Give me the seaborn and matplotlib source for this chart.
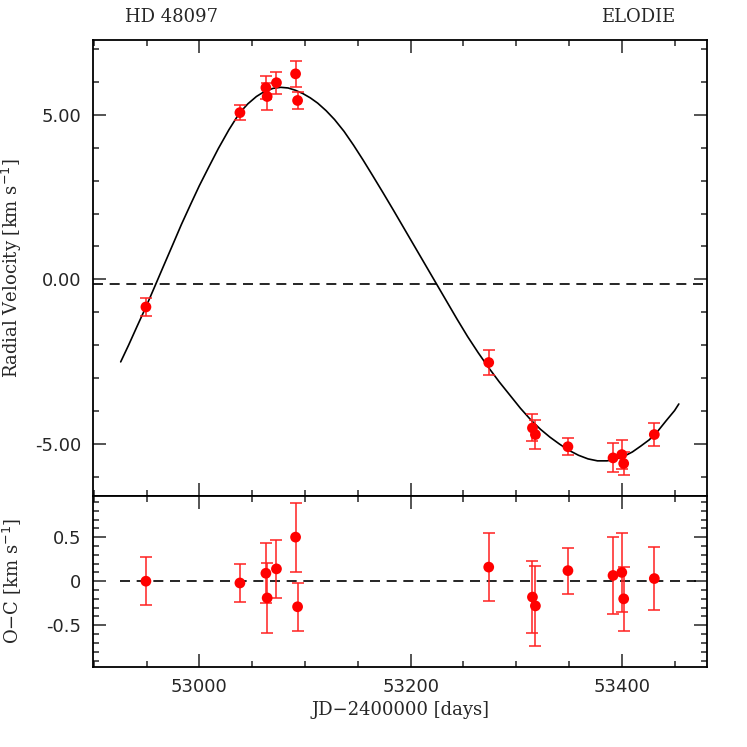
import numpy as np
import seaborn as sns
import matplotlib
matplotlib.use("Agg")
import matplotlib.pyplot as plt
from matplotlib.ticker import MultipleLocator, FuncFormatter

jd = [52949.4, 53038.4, 53063.0, 53064.2, 53073.0, 53091.1, 53093.0,
      53274.0, 53315.4, 53318.2, 53349.0, 53391.7, 53400.0, 53401.8, 53430.8]
rv = [-0.84, 5.07, 5.83, 5.56, 5.98, 6.25, 5.44,
      -2.53, -4.52, -4.72, -5.09, -5.43, -5.33, -5.60, -4.72]
rv_err = [0.27, 0.22, 0.34, 0.40, 0.33, 0.39, 0.27,
          0.39, 0.41, 0.45, 0.26, 0.44, 0.45, 0.36, 0.36]
o_c = [0.00, -0.02, 0.09, -0.19, 0.14, 0.50, -0.29,
       0.16, -0.18, -0.28, 0.12, 0.065, 0.10, -0.20, 0.03]

# Orbital model curve (traced points)
model_jd = [52925.5, 52933, 52941, 52949.4, 52958, 52966, 52975, 52983, 52992,
            53000, 53009, 53018, 53028, 53038, 53046, 53054, 53062, 53070,
            53077, 53084, 53091, 53098, 53105, 53112, 53120, 53128, 53137,
            53146, 53155, 53164, 53174, 53184, 53194, 53204, 53214, 53224,
            53234, 53244, 53254, 53264, 53274, 53284, 53294, 53304, 53314,
            53323, 53332, 53341, 53350, 53359, 53368, 53377, 53386, 53394,
            53402, 53410, 53418, 53426, 53434, 53442, 53450, 53454]
model_rv = [-2.51, -2.00, -1.43, -0.84, -0.20, 0.40, 1.07, 1.67, 2.30,
            2.85, 3.42, 3.98, 4.55, 5.06, 5.34, 5.56, 5.72, 5.81,
            5.84, 5.82, 5.75, 5.65, 5.52, 5.36, 5.13, 4.86, 4.50,
            4.08, 3.63, 3.16, 2.63, 2.09, 1.54, 0.99, 0.44, -0.11,
            -0.66, -1.21, -1.74, -2.23, -2.69, -3.12, -3.52, -3.92, -4.28,
            -4.56, -4.80, -5.01, -5.20, -5.35, -5.46, -5.52, -5.52, -5.47,
            -5.38, -5.25, -5.07, -4.88, -4.62, -4.30, -3.99, -3.79]
gamma = -0.15

sns.set_theme(style="ticks")
plt.rcParams['font.family'] = ['DejaVu Sans']
plt.rcParams['xtick.direction'] = 'in'
plt.rcParams['ytick.direction'] = 'in'

fig = plt.figure(figsize=(7.47, 7.47), dpi=100)
ax1 = fig.add_axes([0.1241, 0.3364, 0.8228, 0.6101])
ax2 = fig.add_axes([0.1241, 0.1075, 0.8228, 0.2289], sharex=ax1)

label_font = dict(family='DejaVu Serif', fontsize=13)

# --- top panel: radial velocities
sns.lineplot(x=model_jd, y=model_rv, ax=ax1, color='black', lw=1.2,
             sort=False, estimator=None)
ax1.axhline(gamma, color='black', ls=(0, (6, 4)), lw=1.2)
ax1.errorbar(jd, rv, yerr=rv_err, fmt='none', ecolor='#ff2020', elinewidth=1.1,
             capsize=4, capthick=1.1, zorder=3)
sns.scatterplot(x=jd, y=rv, ax=ax1, color='#ff0000', s=60, edgecolor='none',
                zorder=4)

ax1.set_ylim(-6.58, 7.28)
ax1.yaxis.set_major_locator(MultipleLocator(5))
ax1.yaxis.set_minor_locator(MultipleLocator(1))
ax1.yaxis.set_major_formatter(FuncFormatter(lambda v, p: f"{v:.2f}"))
ax1.set_ylabel("Radial Velocity [km s$^{-1}$]", **label_font)
ax1.yaxis.set_label_coords(-0.112, 0.5)
ax1.tick_params(axis='x', labelbottom=False)

ax1.text(0.052, 1.03, "HD 48097", transform=ax1.transAxes, ha='left',
         va='bottom', **label_font)
ax1.text(0.948, 1.03, "ELODIE", transform=ax1.transAxes, ha='right',
         va='bottom', **label_font)

# --- bottom panel: residuals
ax2.plot([52925, 53470], [0, 0], color='black', ls=(0, (6, 4)), lw=1.2)
ax2.errorbar(jd, o_c, yerr=rv_err, fmt='none', ecolor='#ff2020', elinewidth=1.1,
             capsize=4, capthick=1.1, zorder=3)
sns.scatterplot(x=jd, y=o_c, ax=ax2, color='#ff0000', s=60, edgecolor='none',
                zorder=4)

ax2.set_ylim(-0.97, 0.97)
ax2.yaxis.set_major_locator(MultipleLocator(0.5))
ax2.yaxis.set_minor_locator(MultipleLocator(0.1))
ax2.yaxis.set_major_formatter(FuncFormatter(lambda v, p: "0" if abs(v) < 1e-9 else f"{v:.1f}"))
ax2.set_ylabel("O\u2212C [km s$^{-1}$]", **label_font)
ax2.yaxis.set_label_coords(-0.112, 0.5)

ax2.set_xlim(52899, 53481)
ax2.xaxis.set_major_locator(MultipleLocator(200))
ax2.xaxis.set_minor_locator(MultipleLocator(50))
ax2.set_xlabel("JD\u22122400000 [days]", **label_font)

for ax in (ax1, ax2):
    ax.tick_params(which='both', top=True, right=True, labelsize=13, pad=8)
    ax.tick_params(which='major', length=9.5, width=1.1)
    ax.tick_params(which='minor', length=4.5, width=1.1)
    for sp in ax.spines.values():
        sp.set_linewidth(1.3)
        sp.set_color('black')

fig.savefig("out.png", dpi=100)
